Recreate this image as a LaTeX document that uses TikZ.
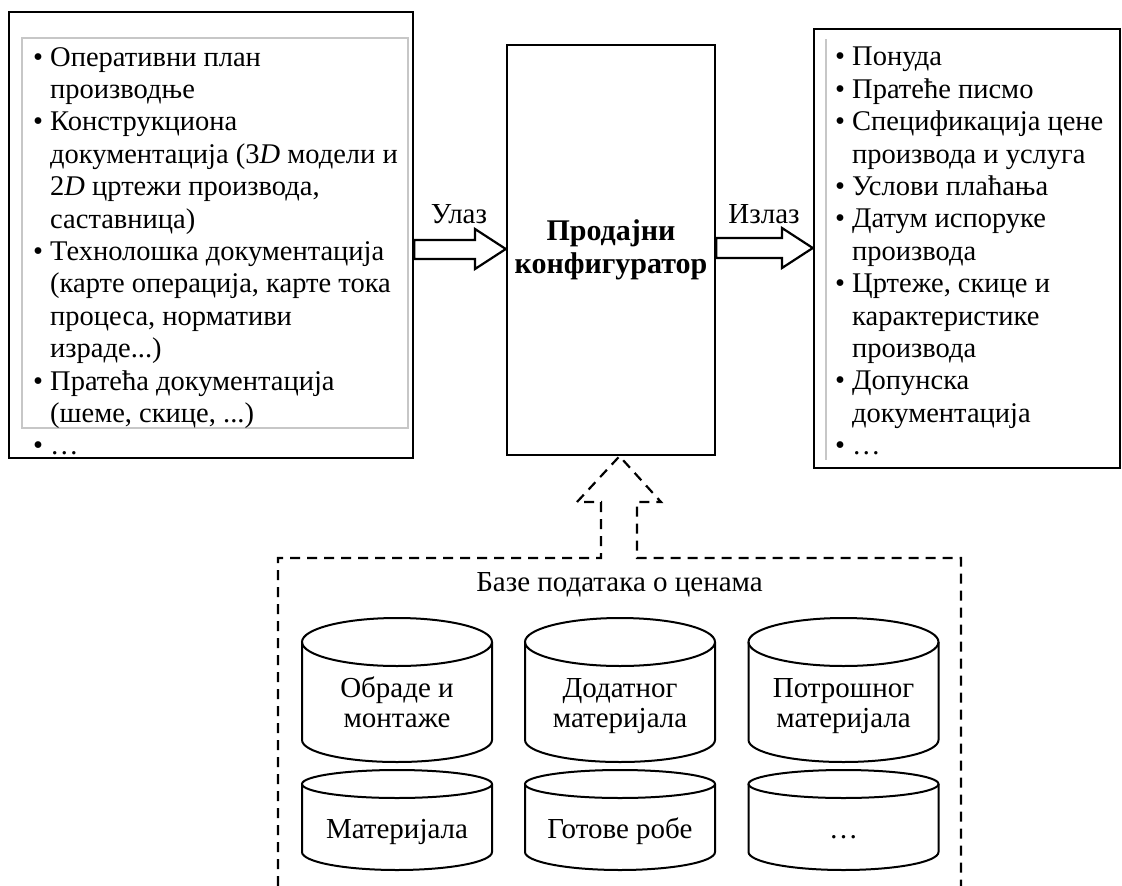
\documentclass[tikz,border=0pt]{standalone}
\usepackage{fontspec}
\setmainfont{Liberation Serif}
\usetikzlibrary{calc}
\tikzset{
 frame/.style={draw=black, line width=2.4pt, inner sep=0pt},
 blockarrow/.style={draw=black, line width=2.2pt, fill=white, line join=miter},
 dashline/.style={draw=black, line width=2.2pt, dash pattern=on 10pt off 7pt},
 cylline/.style={draw=black, line width=2pt},
 listtext/.style={inner sep=0pt, anchor=north west, align=left, font=\fontsize{28.5}{32.4}\selectfont},
 lbl/.style={inner sep=0pt, font=\fontsize{29}{30}\selectfont},
 dbtext/.style={inner sep=0pt, align=center, font=\fontsize{29}{30}\selectfont},
 faint/.style={draw=black!22, line width=1.2pt}
}
\newcommand\bl{\makebox[17pt][l]{•}}
\newcommand\ind{\hspace*{17pt}}
% name, cx, ytop, ybot, rytop, rybot, ytext, text
\newcommand\dbcyl[8]{%
  \draw[cylline, fill=white] (#2-95,#3) -- (#2-95,#4) arc[start angle=180, end angle=0, x radius=95, y radius=#6] -- (#2+95,#3);
  \draw[cylline] (#2,#3) ellipse[x radius=95, y radius=#5];
  \node[dbtext] (#1) at (#2,#7) {#8};
}
\begin{document}
\begin{tikzpicture}[x=1pt,y=-1pt]
\useasboundingbox (0,0) rectangle (1122,886);
\fill[white] (0,0) rectangle (1122,886);

% boxes
\node[frame, minimum width=404pt, minimum height=446pt] (L) at (211,235) {};
\node[frame, minimum width=208pt, minimum height=410pt, align=center,
      font=\bfseries\fontsize{30}{33}\selectfont] (M) at (611,250) {Продајни\\конфигуратор};
\node[frame, minimum width=306pt, minimum height=439pt] (R) at (967,248.5) {};

\draw[faint] (22,38) rectangle (408,428);
\draw[faint] (826,39) -- (826,460);

% lists
\node[listtext] (Ltext) at (33,47) {\bl Оперативни план\\
\ind производње\\
\bl Конструкциона\\
\ind документација (3\textit{D} модели и\\
\ind 2\textit{D} цртежи производа,\\
\ind саставница)\\
\bl Технолошка документација\\
\ind (карте операција, карте тока\\
\ind процеса, нормативи\\
\ind израде...)\\
\bl Пратећа документација\\
\ind (шеме, скице, ...)\\
\bl …};

\node[listtext] (Rtext) at (835,47) {\bl Понуда\\
\bl Пратеће писмо\\
\bl Спецификација цене\\
\ind производа и услуга\\
\bl Услови плаћања\\
\bl Датум испоруке\\
\ind производа\\
\bl Цртеже, скице и\\
\ind карактеристике\\
\ind производа\\
\bl Допунска\\
\ind документација\\
\bl …};

% block arrows
\draw[blockarrow] (L.east |- 0,240) -- (475,240) -- (475,229) -- (M.west |- 0,249)
  -- (475,269) -- (475,259) -- (L.east |- 0,259) -- cycle;
\draw[blockarrow] (M.east |- 0,238) -- (782,238) -- (782,228) -- (R.west |- 0,248)
  -- (782,268) -- (782,258) -- (M.east |- 0,258) -- cycle;
\node[lbl] (inlbl) at (459,214) {Улаз};
\node[lbl] (outlbl) at (764,214) {Излаз};

% dashed database frame with arrow
\coordinate (tip) at ($(M.south)+(8.5,0)$);
\draw[dashline] (278,886) -- (278,558) -- (601,558) -- (601,502) -- (577,502) -- (tip)
  -- (661,502) -- (637,502) -- (637,558) -- (961,558) -- (961,886);
\node[dbtext] (dbt) at (619.5,585) {Базе података о ценама};

% databases
\dbcyl{c1}{397}{642}{740}{24}{22}{706}{\strut Обраде и\\\strut монтаже}
\dbcyl{c2}{620}{642}{740}{24}{22}{706}{\strut Додатног\\\strut материјала}
\dbcyl{c3}{843.5}{642}{740}{24}{22}{706}{\strut Потрошног\\\strut материјала}
\dbcyl{c4}{397}{784}{852}{14}{18}{832}{\strut Материјала}
\dbcyl{c5}{620}{784}{852}{14}{18}{832}{\strut Готове робе}
\dbcyl{c6}{843.5}{784}{852}{14}{18}{832}{\strut …}
\end{tikzpicture}
\end{document}
